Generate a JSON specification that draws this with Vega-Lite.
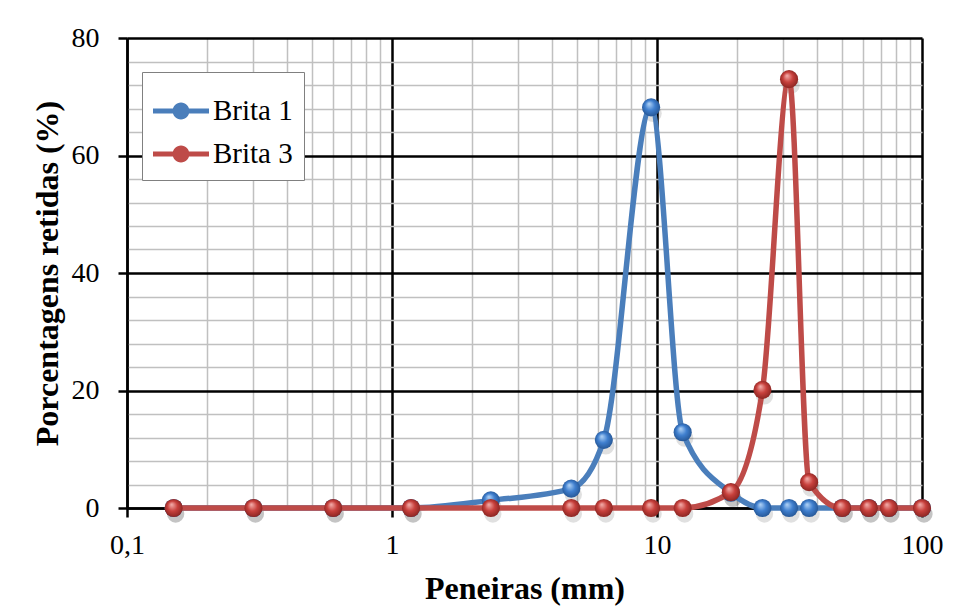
{
  "$schema": "https://vega.github.io/schema/vega-lite/v6.json",
  "width": 795,
  "height": 470,
  "autosize": {"type": "none"},
  "padding": {"left": 127, "top": 38, "right": 41, "bottom": 102},
  "background": "white",
  "config": {"view": {"stroke": null}, "font": "Liberation Serif"},
  "data": {
    "values": [
      {"mm": 0.15, "pct": 0, "serie": "Brita 1"},
      {"mm": 0.3, "pct": 0, "serie": "Brita 1"},
      {"mm": 0.6, "pct": 0, "serie": "Brita 1"},
      {"mm": 1.18, "pct": 0, "serie": "Brita 1"},
      {"mm": 2.36, "pct": 1.3, "serie": "Brita 1"},
      {"mm": 4.75, "pct": 3.3, "serie": "Brita 1"},
      {"mm": 6.3, "pct": 11.6, "serie": "Brita 1"},
      {"mm": 9.5, "pct": 68.2, "serie": "Brita 1"},
      {"mm": 12.5, "pct": 12.9, "serie": "Brita 1"},
      {"mm": 19, "pct": 2.6, "serie": "Brita 1"},
      {"mm": 25, "pct": 0, "serie": "Brita 1"},
      {"mm": 31.5, "pct": 0, "serie": "Brita 1"},
      {"mm": 37.5, "pct": 0, "serie": "Brita 1"},
      {"mm": 50, "pct": 0, "serie": "Brita 1"},
      {"mm": 63, "pct": 0, "serie": "Brita 1"},
      {"mm": 75, "pct": 0, "serie": "Brita 1"},
      {"mm": 100, "pct": 0, "serie": "Brita 1"},
      {"mm": 0.15, "pct": 0, "serie": "Brita 3"},
      {"mm": 0.3, "pct": 0, "serie": "Brita 3"},
      {"mm": 0.6, "pct": 0, "serie": "Brita 3"},
      {"mm": 1.18, "pct": 0, "serie": "Brita 3"},
      {"mm": 2.36, "pct": 0, "serie": "Brita 3"},
      {"mm": 4.75, "pct": 0, "serie": "Brita 3"},
      {"mm": 6.3, "pct": 0, "serie": "Brita 3"},
      {"mm": 9.5, "pct": 0, "serie": "Brita 3"},
      {"mm": 12.5, "pct": 0, "serie": "Brita 3"},
      {"mm": 19, "pct": 2.7, "serie": "Brita 3"},
      {"mm": 25, "pct": 20.1, "serie": "Brita 3"},
      {"mm": 31.5, "pct": 73.0, "serie": "Brita 3"},
      {"mm": 37.5, "pct": 4.4, "serie": "Brita 3"},
      {"mm": 50, "pct": 0, "serie": "Brita 3"},
      {"mm": 63, "pct": 0, "serie": "Brita 3"},
      {"mm": 75, "pct": 0, "serie": "Brita 3"},
      {"mm": 100, "pct": 0, "serie": "Brita 3"}
    ]
  },
  "encoding": {
    "x": {
      "field": "mm",
      "type": "quantitative",
      "scale": {"type": "log", "domain": [0.1, 100]},
      "axis": {
        "title": "Peneiras (mm)",
        "values": [0.1, 0.2, 0.3, 0.4, 0.5, 0.6, 0.7, 0.8, 0.9, 1, 2, 3, 4, 5, 6, 7, 8, 9, 10, 20, 30, 40, 50, 60, 70, 80, 90, 100],
        "labelExpr": "datum.value == 0.1 ? '0,1' : datum.value == 1 ? '1' : datum.value == 10 ? '10' : datum.value == 100 ? '100' : ''",
        "grid": true,
        "gridColor": {"condition": {"test": "datum.value == 0.1 || datum.value == 1 || datum.value == 10 || datum.value == 100", "value": "#000000"}, "value": "#c0c0c0"},
        "gridWidth": {"condition": {"test": "datum.value == 0.1 || datum.value == 1 || datum.value == 10 || datum.value == 100", "value": 2.5}, "value": 1.5},
        "gridOpacity": 1,
        "tickColor": "#000000",
        "tickWidth": 2.5,
        "tickSize": 9,
        "tickOpacity": {"condition": {"test": "datum.value == 0.1 || datum.value == 1 || datum.value == 10 || datum.value == 100", "value": 1}, "value": 0},
        "domainColor": "#000000",
        "domainWidth": 2.5,
        "labelFontSize": 28,
        "labelColor": "#000000",
        "labelBaseline": "alphabetic",
        "labelPadding": 36,
        "labelFlush": false,
        "labelOverlap": false,
        "titleFontSize": 32,
        "titleFontWeight": "bold",
        "titleColor": "#000000",
        "titleBaseline": "alphabetic",
        "titleX": 397.5,
        "titleY": 90
      }
    },
    "y": {
      "field": "pct",
      "type": "quantitative",
      "scale": {"domain": [0, 80]},
      "axis": {
        "title": "Porcentagens retidas (%)",
        "values": [0, 4, 8, 12, 16, 20, 24, 28, 32, 36, 40, 44, 48, 52, 56, 60, 64, 68, 72, 76, 80],
        "labelExpr": "datum.value % 20 == 0 ? datum.label : ''",
        "grid": true,
        "gridColor": {"condition": {"test": "datum.value % 20 == 0", "value": "#000000"}, "value": "#c0c0c0"},
        "gridWidth": {"condition": {"test": "datum.value % 20 == 0", "value": 2.5}, "value": 1.5},
        "gridOpacity": 1,
        "tickColor": "#000000",
        "tickWidth": 2.5,
        "tickSize": 9,
        "tickOpacity": {"condition": {"test": "datum.value % 20 == 0", "value": 1}, "value": 0},
        "domainColor": "#000000",
        "domainWidth": 2.5,
        "labelFontSize": 28,
        "labelColor": "#000000",
        "labelPadding": 19,
        "labelFlush": false,
        "labelOverlap": false,
        "titleFontSize": 32,
        "titleFontWeight": "bold",
        "titleColor": "#000000",
        "titleBaseline": "alphabetic",
        "titleX": -70,
        "titleY": 235
      }
    }
  },
  "layer": [
    {
      "mark": {"type": "point", "filled": true, "size": 300, "fill": "#000000", "opacity": 0.12, "stroke": null, "xOffset": 2, "yOffset": 6}
    },
    {
      "transform": [{"filter": "datum.serie == 'Brita 1'"}],
      "mark": {"type": "line", "interpolate": "monotone", "strokeWidth": 5.5},
      "encoding": {
        "color": {
          "field": "serie",
          "type": "nominal",
          "scale": {"domain": ["Brita 1", "Brita 3"], "range": ["#4a7ebb", "#be4b48"]},
          "legend": {
            "orient": "none",
            "legendX": 15,
            "legendY": 34,
            "title": null,
            "symbolType": "M-1,-0.09H1V0.09H-1Z M0.3,0A0.3,0.3 0 1,1 -0.3,0A0.3,0.3 0 1,1 0.3,0Z",
            "symbolSize": 3136,
            "symbolStrokeWidth": 0,
            "labelFontSize": 29,
            "labelColor": "#000000",
            "labelOffset": 4,
            "rowPadding": -4,
            "padding": 11,
            "strokeColor": "#808080",
            "fillColor": "#ffffff",
            "encode": {"symbols": {"update": {"fill": {"scale": "color", "field": "value"}, "strokeWidth": {"value": 0}}}}
          }
        }
      }
    },
    {
      "transform": [{"filter": "datum.serie == 'Brita 1'"}],
      "mark": {
        "type": "point", "filled": true, "size": 330, "opacity": 1,
        "fill": {"gradient": "radial", "x1": 0.38, "y1": 0.3, "r1": 0, "x2": 0.5, "y2": 0.5, "r2": 0.55,
          "stops": [{"offset": 0, "color": "#b5d6f7"}, {"offset": 0.5, "color": "#3f7fcf"}, {"offset": 1, "color": "#23528f"}]},
        "stroke": null
      }
    },
    {
      "transform": [{"filter": "datum.serie == 'Brita 3'"}],
      "mark": {"type": "line", "interpolate": "monotone", "strokeWidth": 5.5},
      "encoding": {"color": {"field": "serie", "type": "nominal"}}
    },
    {
      "transform": [{"filter": "datum.serie == 'Brita 3'"}],
      "mark": {
        "type": "point", "filled": true, "size": 330, "opacity": 1,
        "fill": {"gradient": "radial", "x1": 0.38, "y1": 0.3, "r1": 0, "x2": 0.5, "y2": 0.5, "r2": 0.55,
          "stops": [{"offset": 0, "color": "#f5b3b0"}, {"offset": 0.5, "color": "#c8403c"}, {"offset": 1, "color": "#83221f"}]},
        "stroke": null
      }
    }
  ]
}
